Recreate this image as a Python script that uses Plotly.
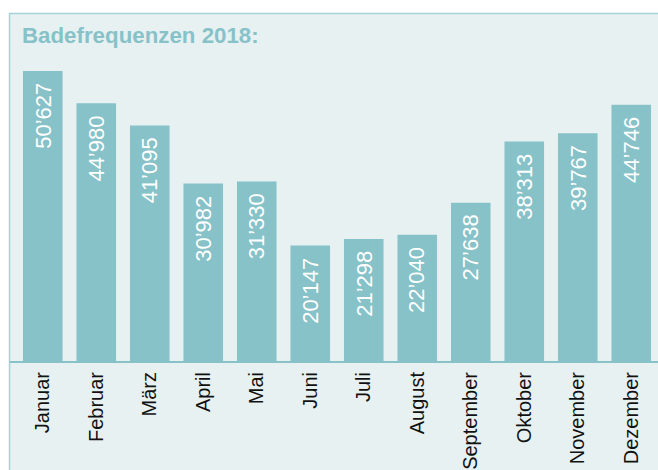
import plotly.graph_objects as go

months = ["Januar", "Februar", "März", "April", "Mai", "Juni", "Juli",
          "August", "September", "Oktober", "November", "Dezember"]
visits = [50627, 44980, 41095, 30982, 31330, 20147, 21298,
          22040, 27638, 38313, 39767, 44746]
title_text = "Badefrequenzen 2018:"

BAR = "#86c2c8"
BG = "#e8f1f2"
BORDER = "#a6d1d5"
FONT = "Liberation Sans, Arial, sans-serif"

labels = [f"{v:,}".replace(",", "\u2019") for v in visits]

W, H = 658, 470
L, R, T, B = 16, 0, 60, H - 361
pw, ph = W - L - R, H - T - B

def px_x(p):
    return (p - L) / pw

def px_y(p):
    return (H - B - p) / ph

fig = go.Figure()
fig.add_trace(go.Bar(
    x=months, y=visits, marker=dict(color=BAR, line=dict(width=0)),
    hoverinfo="skip",
))

annotations = []
for m, v, t in zip(months, visits, labels):
    annotations.append(dict(
        x=m, y=v, xref="x", yref="y", text=t, showarrow=False,
        textangle=-90, xanchor="center", yanchor="top", yshift=-10,
        font=dict(family=FONT, size=22, color="white"),
    ))

shapes = [
    dict(type="rect", xref="paper", yref="paper",
         x0=px_x(9.5), x1=px_x(720), y0=px_y(13.5), y1=px_y(540),
         fillcolor=BG, line=dict(color=BORDER, width=1.5), layer="below"),
    dict(type="line", xref="paper", yref="paper",
         x0=px_x(10), x1=px_x(720), y0=px_y(362), y1=px_y(362),
         line=dict(color=BAR, width=2), layer="above"),
]

fig.update_layout(
    width=W, height=H,
    margin=dict(l=L, r=R, t=T, b=B, pad=0),
    paper_bgcolor="white", plot_bgcolor="rgba(0,0,0,0)",
    bargap=0.26,
    showlegend=False,
    hovermode=False,
    title=dict(text=f"<b>{title_text}</b>", xref="container", yref="container",
               x=22 / W, xanchor="left", y=1 - 27 / H, yanchor="top",
               font=dict(family=FONT, size=22.3, color=BAR)),
    xaxis=dict(range=[-0.5, 11.5], tickangle=-90, showgrid=False, zeroline=False,
               showline=False, ticks="", ticklabelstandoff=6, fixedrange=True,
               tickfont=dict(family=FONT, size=20, color="#111111")),
    yaxis=dict(range=[0, 52549], visible=False, showgrid=False, zeroline=False,
               fixedrange=True),
    shapes=shapes,
    annotations=annotations,
)

fig.write_html(
    "out.html",
    config={"displayModeBar": False, "staticPlot": True},
    post_script="document.body.style.margin='0';"
                "document.documentElement.style.overflow='hidden';",
)
